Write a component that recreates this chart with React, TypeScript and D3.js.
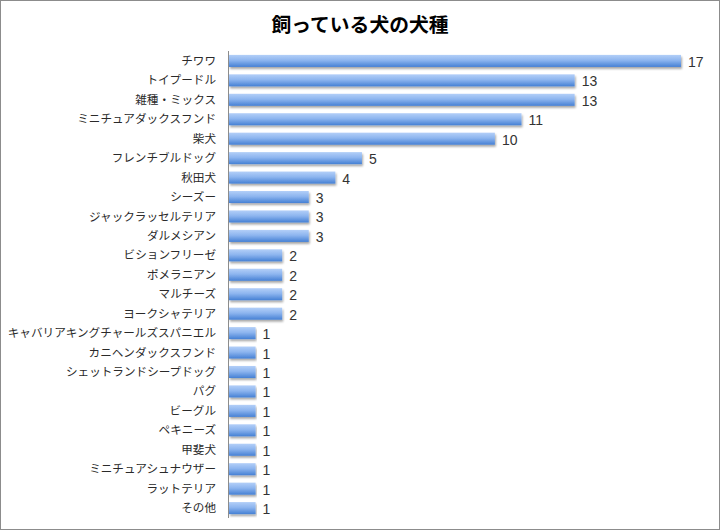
import React from "react";
import * as d3 from "d3";

const title = "飼っている犬の犬種";
const categories = [
  "チワワ", "トイプードル", "雑種・ミックス", "ミニチュアダックスフンド", "柴犬",
  "フレンチブルドッグ", "秋田犬", "シーズー", "ジャックラッセルテリア", "ダルメシアン",
  "ビションフリーゼ", "ポメラニアン", "マルチーズ", "ヨークシャテリア",
  "キャバリアキングチャールズスパニエル", "カニヘンダックスフンド", "シェットランドシープドッグ",
  "パグ", "ビーグル", "ペキニーズ", "甲斐犬", "ミニチュアシュナウザー", "ラットテリア", "その他",
];
const values = [17, 13, 13, 11, 10, 5, 4, 3, 3, 3, 2, 2, 2, 2, 1, 1, 1, 1, 1, 1, 1, 1, 1, 1];

const W = 720;
const H = 530;
const font = "'Noto Sans CJK JP', 'Noto Sans', sans-serif";
const numFont = "'Liberation Sans', 'DejaVu Sans', sans-serif";

export default function App() {
  const x = d3.scaleLinear().domain([0, 17]).range([229, 681]);
  const y = d3.scaleBand<string>().domain(categories).range([51, 518]).paddingInner(0.38).paddingOuter(0.2);
  const bh = y.bandwidth();
  return (
    <svg width={W} height={H} style={{ position: "fixed", left: 0, top: 0, background: "#fff" }}>
      <defs>
        <linearGradient id="barg" x1="0" y1="0" x2="0" y2="1">
          <stop offset="0%" stopColor="#b3cff8" />
          <stop offset="45%" stopColor="#8db5ef" />
          <stop offset="100%" stopColor="#4580d4" />
        </linearGradient>
        <filter id="sh" x="-5%" y="-30%" width="110%" height="180%">
          <feGaussianBlur in="SourceAlpha" stdDeviation="1" />
          <feOffset dx="1" dy="1.5" result="o" />
          <feComponentTransfer><feFuncA type="linear" slope="0.35" /></feComponentTransfer>
          <feMerge><feMergeNode /><feMergeNode in="SourceGraphic" /></feMerge>
        </filter>
      </defs>
      <rect x={0.5} y={0.5} width={W - 1} height={H - 1} fill="#fff" stroke="#8c8c8c" />
      <text x={W / 2} y={32} textAnchor="middle" fontFamily={font} fontWeight="bold" fontSize={19.8} fill="#000">
        {title}
      </text>
      {categories.map((c, i) => {
        const yy = y(c)!;
        return (
          <g key={c}>
            <rect x={x(0)} y={yy} width={x(values[i]) - x(0)} height={bh} fill="url(#barg)" filter="url(#sh)" />
            <text x={216} y={yy + bh / 2} dy="0.35em" textAnchor="end" fontFamily={font} fontSize={11.6} fill="#2a2a2a">
              {c}
            </text>
            <text x={x(values[i]) + 7} y={yy + bh / 2 + 1} dy="0.36em" fontFamily={numFont} fontSize={14} fill="#333">
              {values[i]}
            </text>
          </g>
        );
      })}
      <line x1={228.5} x2={228.5} y1={y.range()[0]} y2={y.range()[1]} stroke="#8c8c8c" strokeWidth={1} />
    </svg>
  );
}
